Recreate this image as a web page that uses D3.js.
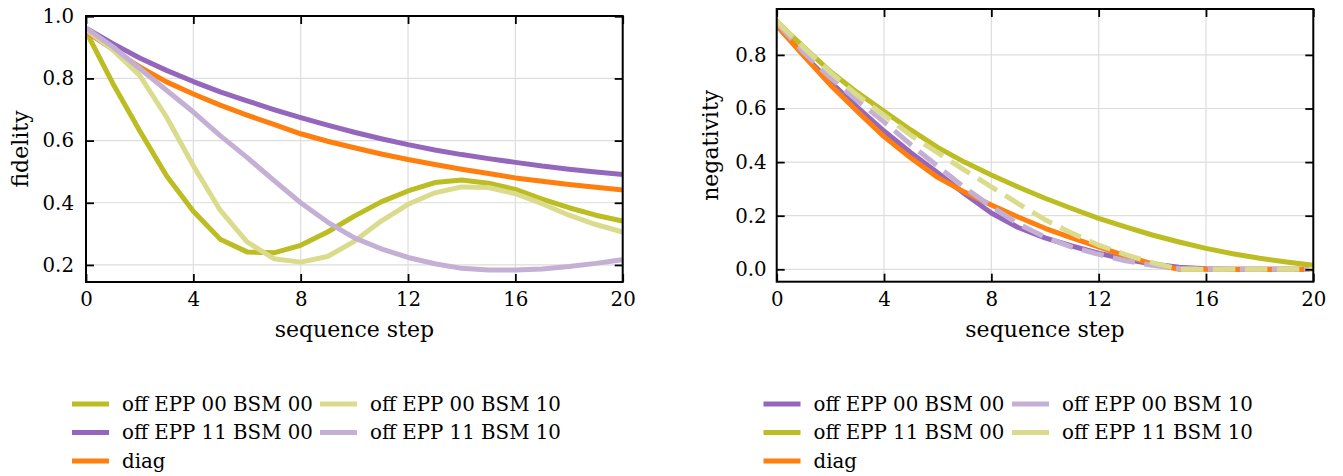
<!DOCTYPE html>
<html>
<head>
<meta charset="utf-8">
<script src="https://cdn.jsdelivr.net/npm/d3@7"></script>
<style>
  html, body { margin: 0; padding: 0; background: #ffffff; }
  svg { display: block; font-family: "DejaVu Serif", serif; }
</style>
</head>
<body>
<svg id="chart" width="1343" height="476"></svg>
<script>
// sequence steps shared by both panels
const steps = [0, 1, 2, 3, 4, 5, 6, 7, 8, 9, 10, 11, 12, 13, 14, 15, 16, 17, 18, 19, 20];
const xTickValues = [0, 4, 8, 12, 16, 20];

// fidelity panel
const fidLabels = ["off EPP 00 BSM 00", "off EPP 11 BSM 00", "diag", "off EPP 00 BSM 10", "off EPP 11 BSM 10"];
const fidOffEpp00Bsm00 = [0.951, 0.784, 0.632, 0.487, 0.373, 0.283, 0.242, 0.239, 0.263, 0.306, 0.357, 0.403, 0.438, 0.465, 0.473, 0.463, 0.443, 0.412, 0.384, 0.360, 0.341];
const fidOffEpp11Bsm00 = [0.962, 0.912, 0.866, 0.826, 0.790, 0.757, 0.728, 0.700, 0.674, 0.650, 0.627, 0.606, 0.587, 0.570, 0.555, 0.542, 0.530, 0.518, 0.508, 0.499, 0.491];
const fidDiag          = [0.951, 0.893, 0.837, 0.789, 0.750, 0.714, 0.682, 0.652, 0.622, 0.598, 0.577, 0.557, 0.539, 0.523, 0.508, 0.494, 0.480, 0.469, 0.459, 0.450, 0.441];
const fidOffEpp00Bsm10 = [0.957, 0.892, 0.810, 0.676, 0.519, 0.376, 0.274, 0.220, 0.209, 0.227, 0.276, 0.341, 0.395, 0.432, 0.451, 0.449, 0.429, 0.397, 0.360, 0.330, 0.306];
const fidOffEpp11Bsm10 = [0.962, 0.902, 0.832, 0.762, 0.692, 0.616, 0.546, 0.472, 0.400, 0.338, 0.287, 0.252, 0.224, 0.204, 0.189, 0.184, 0.184, 0.187, 0.195, 0.205, 0.217];
const fidTickValues = [0.2, 0.4, 0.6, 0.8, 1.0];

// negativity panel
const negLabels = ["off EPP 00 BSM 00", "off EPP 11 BSM 00", "diag", "off EPP 00 BSM 10", "off EPP 11 BSM 10"];
const negOffEpp00Bsm00 = [0.910, 0.800, 0.700, 0.605, 0.516, 0.435, 0.360, 0.282, 0.210, 0.156, 0.117, 0.087, 0.060, 0.037, 0.020, 0.008, 0.002, 0.000, 0.000, 0.000, 0.000];
const negOffEpp11Bsm00 = [0.925, 0.830, 0.738, 0.660, 0.590, 0.520, 0.455, 0.400, 0.352, 0.307, 0.265, 0.227, 0.190, 0.158, 0.128, 0.102, 0.078, 0.058, 0.041, 0.027, 0.015];
const negDiag          = [0.910, 0.797, 0.688, 0.590, 0.495, 0.415, 0.343, 0.288, 0.240, 0.195, 0.153, 0.117, 0.084, 0.050, 0.020, 0.000, 0.000, 0.000, 0.000, 0.000, 0.000];
const negOffEpp00Bsm10 = [0.920, 0.810, 0.715, 0.630, 0.550, 0.465, 0.385, 0.305, 0.235, 0.170, 0.120, 0.083, 0.056, 0.032, 0.015, 0.003, 0.000, 0.000, 0.000, 0.000, 0.000];
const negOffEpp11Bsm10 = [0.925, 0.828, 0.735, 0.650, 0.575, 0.500, 0.435, 0.370, 0.308, 0.245, 0.185, 0.135, 0.090, 0.055, 0.025, 0.000, 0.000, 0.000, 0.000, 0.000, 0.000];
const negTickValues = [0.0, 0.2, 0.4, 0.6, 0.8];

const OLIVE = "#bcbd22", OLIVE_LIGHT = "#dbdb8d";
const PURPLE = "#9467bd", PURPLE_LIGHT = "#c5b0d5";
const ORANGE = "#ff7f0e";

const svg = d3.select("#chart");

function drawPanel(cfg) {
  const { id, box, series, yTicks, yLabel, yLabelX, legend } = cfg;
  const g = svg.append("g");

  const x = d3.scaleLinear().domain([0, 20]).range([box.x0, box.x1]);
  const allVals = series.flatMap(s => s.values);
  const lo = d3.min(allVals), hi = d3.max(allVals), pad = (hi - lo) * 0.05;
  const y = d3.scaleLinear().domain([lo - pad, hi + pad]).range([box.y1, box.y0]);

  // grid
  g.append("g").selectAll("line.gx").data(xTickValues).join("line")
    .attr("x1", d => x(d)).attr("x2", d => x(d))
    .attr("y1", box.y0).attr("y2", box.y1)
    .attr("stroke", "#dddddd").attr("stroke-width", 1.2);
  g.append("g").selectAll("line.gy").data(yTicks).join("line")
    .attr("x1", box.x0).attr("x2", box.x1)
    .attr("y1", d => y(d)).attr("y2", d => y(d))
    .attr("stroke", "#dddddd").attr("stroke-width", 1.2);

  // data lines, clipped to the axes box
  svg.append("clipPath").attr("id", "clip-" + id).append("rect")
    .attr("x", box.x0).attr("y", box.y0)
    .attr("width", box.x1 - box.x0).attr("height", box.y1 - box.y0);
  const line = d3.line().x((d, i) => x(steps[i])).y(d => y(d));
  const lines = g.append("g").attr("clip-path", `url(#clip-${id})`);
  series.forEach(s => {
    lines.append("path")
      .attr("d", line(s.values))
      .attr("fill", "none")
      .attr("stroke", s.color)
      .attr("stroke-width", 5)
      .attr("stroke-linejoin", "round")
      .attr("stroke-linecap", s.dash ? "butt" : "square")
      .attr("stroke-dasharray", s.dash ? "22.5,9.5" : null);
  });

  // axes with inward ticks on all four sides
  const tickFont = "19.8px";
  const bottom = g.append("g").attr("transform", `translate(0,${box.y1})`)
    .call(d3.axisBottom(x).tickValues(xTickValues).tickFormat(d3.format("d"))
      .tickSize(-8).tickSizeOuter(0).tickPadding(10));
  const top = g.append("g").attr("transform", `translate(0,${box.y0})`)
    .call(d3.axisTop(x).tickValues(xTickValues).tickFormat("").tickSize(-8).tickSizeOuter(0));
  const left = g.append("g").attr("transform", `translate(${box.x0},0)`)
    .call(d3.axisLeft(y).tickValues(yTicks).tickFormat(d3.format(".1f"))
      .tickSize(-8).tickSizeOuter(0).tickPadding(cfg.yPad));
  const right = g.append("g").attr("transform", `translate(${box.x1},0)`)
    .call(d3.axisRight(y).tickValues(yTicks).tickFormat("").tickSize(-8).tickSizeOuter(0));
  [bottom, top, left, right].forEach(a => {
    a.select(".domain").remove();
    a.selectAll(".tick line").attr("stroke", "#000").attr("stroke-width", 1.8);
    a.selectAll("text").attr("font-family", "DejaVu Serif").attr("font-size", tickFont).attr("fill", "#000");
  });

  // frame
  g.append("rect")
    .attr("x", box.x0).attr("y", box.y0)
    .attr("width", box.x1 - box.x0).attr("height", box.y1 - box.y0)
    .attr("fill", "none").attr("stroke", "#000").attr("stroke-width", 2);

  // axis titles
  g.append("text")
    .attr("x", (box.x0 + box.x1) / 2).attr("y", 337)
    .attr("text-anchor", "middle").attr("font-size", "22px")
    .text("sequence step");
  g.append("text")
    .attr("transform", `translate(${yLabelX},${(box.y0 + box.y1) / 2}) rotate(-90)`)
    .attr("text-anchor", "middle").attr("font-size", "22px")
    .text(yLabel);

  // legend, two columns filled column by column
  const rowsY = [404, 432.5, 461];
  const lg = g.append("g");
  legend.order.forEach((k, i) => {
    const s = series[k];
    const col = i < 3 ? 0 : 1;
    const row = i < 3 ? i : i - 3;
    const lx = legend.cols[col];
    lg.append("line")
      .attr("x1", lx).attr("x2", lx + 37)
      .attr("y1", rowsY[row]).attr("y2", rowsY[row])
      .attr("stroke", s.color).attr("stroke-width", 5);
    lg.append("text")
      .attr("x", lx + 50).attr("y", rowsY[row]).attr("dy", "0.35em")
      .attr("font-size", "19.8px")
      .text(s.label);
  });
}

drawPanel({
  id: "fid",
  box: { x0: 86, x1: 622.7, y0: 16, y1: 282 },
  yTicks: fidTickValues,
  yPad: 12,
  yLabel: "fidelity",
  yLabelX: 28,
  series: [
    { label: fidLabels[0], values: fidOffEpp00Bsm00, color: OLIVE },
    { label: fidLabels[1], values: fidOffEpp11Bsm00, color: PURPLE },
    { label: fidLabels[2], values: fidDiag, color: ORANGE },
    { label: fidLabels[3], values: fidOffEpp00Bsm10, color: OLIVE_LIGHT },
    { label: fidLabels[4], values: fidOffEpp11Bsm10, color: PURPLE_LIGHT }
  ],
  legend: { order: [0, 1, 2, 3, 4], cols: [72, 320] }
});

drawPanel({
  id: "neg",
  box: { x0: 776.7, x1: 1313.3, y0: 9, y1: 281.7 },
  yTicks: negTickValues,
  yPad: 10,
  yLabel: "negativity",
  yLabelX: 718,
  series: [
    { label: negLabels[0], values: negOffEpp00Bsm00, color: PURPLE },
    { label: negLabels[1], values: negOffEpp11Bsm00, color: OLIVE },
    { label: negLabels[2], values: negDiag, color: ORANGE },
    { label: negLabels[3], values: negOffEpp00Bsm10, color: PURPLE_LIGHT, dash: true },
    { label: negLabels[4], values: negOffEpp11Bsm10, color: OLIVE_LIGHT, dash: true }
  ],
  legend: { order: [0, 1, 2, 3, 4], cols: [763.5, 1012] }
});
</script>
</body>
</html>
